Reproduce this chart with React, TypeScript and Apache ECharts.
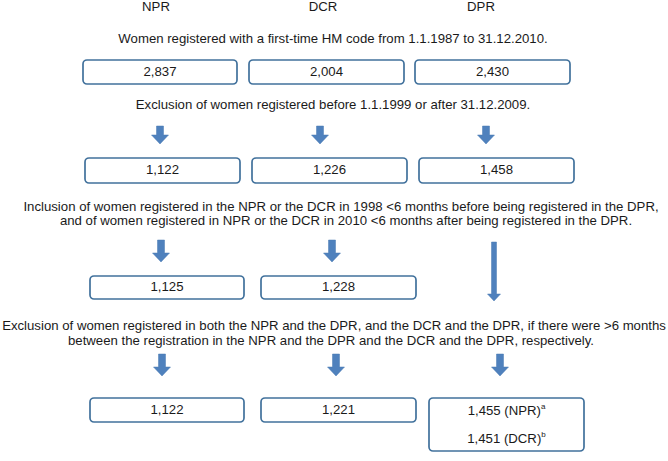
import React, { useEffect, useRef } from "react";
import * as echarts from "echarts";

// ---- data ----
const registries = ["NPR", "DCR", "DPR"];
const stepTexts = [
  ["Women registered with a first-time HM code from 1.1.1987 to 31.12.2010."],
  ["Exclusion of women registered before 1.1.1999 or after 31.12.2009."],
  [
    "Inclusion of women registered in the NPR or the DCR in 1998 <6 months before being registered in the DPR,",
    "and of women registered in NPR or the DCR in 2010 <6 months after being registered in the DPR.",
  ],
  [
    "Exclusion of women registered in both the NPR and the DPR, and the DCR and the DPR, if there were >6 months",
    "between the registration in the NPR and the DPR and the DCR and the DPR, respectively.",
  ],
];
const row1Counts = [2837, 2004, 2430];
const row2Counts = [1122, 1226, 1458];
const row3Counts = [1125, 1228];
const row4Counts = [1122, 1221];
const dprFinalCounts = [1455, 1451];
const dprFinalSources = ["NPR", "DCR"];
const dprFinalNotes = ["a", "b"];

// ---- layout (positions, sizes) ----
const FONT = '"Liberation Sans", Arial, Helvetica, sans-serif';
const FONT_SIZE = 13.2;
const TEXT_COLOR = "#1a1a1a";
const BOX_STROKE = "#41719c";
const ARROW_FILL = "#4f81bd";

const headerX = [156, 323, 481];
const headerY = 6;
const stepLineY = [[38], [104], [206, 220], [325, 340]];
const stepLineX = [[333], [333], [341, 346], [334, 331]];

const rowBoxX = [
  [[83, 237], [249, 404], [415, 570]],
  [[85, 240], [252, 407], [419, 574]],
  [[90, 244], [261, 416]],
  [[90, 244], [261, 416]],
];
const rowBoxY = [[60, 84], [158, 183], [276, 299], [398, 422]];
const dprFinalBox = { x0: 429, x1: 584, y0: 398, y1: 451 };
const dprFinalTextY = [410, 438];

const shortArrows = [
  { xs: [160, 320, 486], y0: 126, y1: 144 },
  { xs: [161, 332], y0: 240, y1: 262 },
  { xs: [162, 336, 500], y0: 354, y1: 376 },
];
const longArrow = { x: 494, y0: 242, y1: 301 };

const fmt = (v: number) => v.toLocaleString("en-US");

function arrowPoints(cx: number, y0: number, y1: number, shaftHalf: number, headHalf: number, headLen: number) {
  const yh = y1 - headLen;
  return [
    [cx - shaftHalf, y0],
    [cx + shaftHalf, y0],
    [cx + shaftHalf, yh],
    [cx + headHalf, yh],
    [cx, y1],
    [cx - headHalf, yh],
    [cx - shaftHalf, yh],
  ];
}

function textEl(text: string, x: number, y: number, extra: any = {}) {
  return {
    type: "text",
    x,
    y,
    silent: true,
    style: {
      text,
      fill: TEXT_COLOR,
      fontSize: FONT_SIZE,
      fontFamily: FONT,
      align: "center",
      verticalAlign: "middle",
      ...extra,
    },
  };
}

function boxEl(x0: number, x1: number, y0: number, y1: number) {
  return {
    type: "rect",
    silent: true,
    shape: { x: x0, y: y0, width: x1 - x0, height: y1 - y0, r: 4 },
    style: { fill: "#ffffff", stroke: BOX_STROKE, lineWidth: 1.7 },
  };
}

function buildGraphics() {
  const els: any[] = [];
  registries.forEach((r, i) => els.push(textEl(r, headerX[i], headerY)));
  stepTexts.forEach((lines, i) =>
    lines.forEach((t, j) => els.push(textEl(t, stepLineX[i][j], stepLineY[i][j])))
  );
  const rows = [row1Counts, row2Counts, row3Counts, row4Counts];
  rows.forEach((counts, ri) => {
    counts.forEach((v, ci) => {
      const [x0, x1] = rowBoxX[ri][ci];
      const [y0, y1] = rowBoxY[ri];
      els.push(boxEl(x0, x1, y0, y1));
      els.push(textEl(fmt(v), (x0 + x1) / 2, (y0 + y1) / 2 - 1));
    });
  });
  els.push(boxEl(dprFinalBox.x0, dprFinalBox.x1, dprFinalBox.y0, dprFinalBox.y1));
  dprFinalCounts.forEach((v, i) => {
    els.push(
      textEl(
        `${fmt(v)} (${dprFinalSources[i]}){sup|${dprFinalNotes[i]}}`,
        (dprFinalBox.x0 + dprFinalBox.x1) / 2,
        dprFinalTextY[i],
        {
          rich: {
            sup: { fontSize: 8, fontFamily: FONT, fill: TEXT_COLOR, verticalAlign: "top", lineHeight: 16 },
          },
          lineHeight: 16,
        }
      )
    );
  });
  shortArrows.forEach((a) =>
    a.xs.forEach((x) =>
      els.push({
        type: "polygon",
        silent: true,
        shape: { points: arrowPoints(x, a.y0, a.y1, 3.5, 8.5, 9) },
        style: { fill: ARROW_FILL, stroke: "#4a7ab3", lineWidth: 0.5 },
      })
    )
  );
  els.push({
    type: "polygon",
    silent: true,
    shape: { points: arrowPoints(longArrow.x, longArrow.y0, longArrow.y1, 2.5, 6.5, 7) },
    style: { fill: ARROW_FILL, stroke: "#4a7ab3", lineWidth: 0.5 },
  });
  return els;
}

export default function App() {
  const ref = useRef<HTMLDivElement>(null);
  useEffect(() => {
    if (!ref.current) return;
    const chart = echarts.init(ref.current, undefined, { renderer: "svg" });
    chart.setOption({
      animation: false,
      backgroundColor: "#ffffff",
      graphic: buildGraphics(),
    });
    return () => chart.dispose();
  }, []);
  return (
    <div
      ref={ref}
      style={{ position: "fixed", left: 0, top: 0, width: 668, height: 461, background: "#fff" }}
    />
  );
}
